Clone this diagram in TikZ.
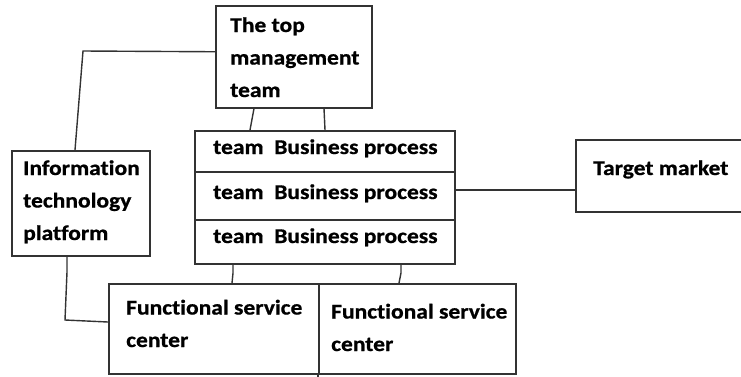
\documentclass[tikz,border=0pt]{standalone}
\usepackage{fontspec}
\setmainfont{Carlito}
\newfontfamily\lblfont[FakeStretch=1.12,Ligatures={NoCommon},BoldFeatures={FakeBold=0.8}]{Carlito}
\begin{document}
\begin{tikzpicture}[x=1pt,y=-1pt,
  box/.style={draw=black!80,line width=1.5pt,inner sep=0pt,anchor=north west},
  txt/.style={inner sep=0pt,anchor=base west,align=left,font=\lblfont\fontsize{21}{32.5}\selectfont\bfseries},
  link/.style={draw=black!80,line width=1.4pt}]
\useasboundingbox (0,0) rectangle (741,376);
% boxes
\node[box,minimum width=156pt,minimum height=102pt] (top) at (215,5) {};
\node[box,minimum width=138pt,minimum height=105pt] (info) at (11,150) {};
\node[box,minimum width=260pt,minimum height=41pt] (bp1) at (194,130) {};
\node[box,minimum width=260pt,minimum height=48pt] (bp2) at (194,171) {};
\node[box,minimum width=260pt,minimum height=44pt] (bp3) at (194,219) {};
\node[box,minimum width=175pt,minimum height=72pt] (tm) at (575,139) {};
\node[box,minimum width=210pt,minimum height=90pt] (fs1) at (108,283) {};
\node[box,minimum width=197pt,minimum height=90pt] (fs2) at (318,283) {};
% texts (anchored at the baseline of the last line)
\node[txt] (toptxt) at (230,97) {The top\\management\\team};
\node[txt] (infotxt) at (23,240) {Information\\technology\\platform};
\node[txt] (bp1txt) at (213,154) {team\ \ Business process};
\node[txt] (bp2txt) at (213,199) {team\ \ Business process};
\node[txt] (bp3txt) at (213,243) {team\ \ Business process};
\node[txt] (tmtxt) at (593,175) {Target market};
\node[txt] (fs1txt) at (126,347) {Functional service\\center};
\node[txt] (fs2txt) at (331,351) {Functional service\\center};
% connectors
\coordinate (c1) at (83,51);
\draw[link] ([yshift=5pt]top.west) -- (c1) -- (info.north -| 75,0);
\coordinate (c2) at (67,272);
\coordinate (c3) at (65,320);
\draw[link] (info.south -| 67,0) -- (c2) -- (c3) -- (fs1.west |- 0,322);
\draw[link] (top.south -| 254,0) -- (bp1.north -| 250,0);
\draw[link] (top.south -| 324,0) -- (bp1.north -| 325,0);
\coordinate (c4) at (233,273);
\coordinate (c5) at (401,273);
\draw[link] (bp3.south -| 233,0) -- (c4) -- (fs1.north -| 232,0);
\draw[link] (bp3.south -| 401,0) -- (c5) -- (fs2.north -| 399,0);
\draw[link] (bp2.east |- 0,190) -- (tm.west |- 0,190);
\draw[link] (fs2.south west) -- ++(0,3);
\end{tikzpicture}
\end{document}
